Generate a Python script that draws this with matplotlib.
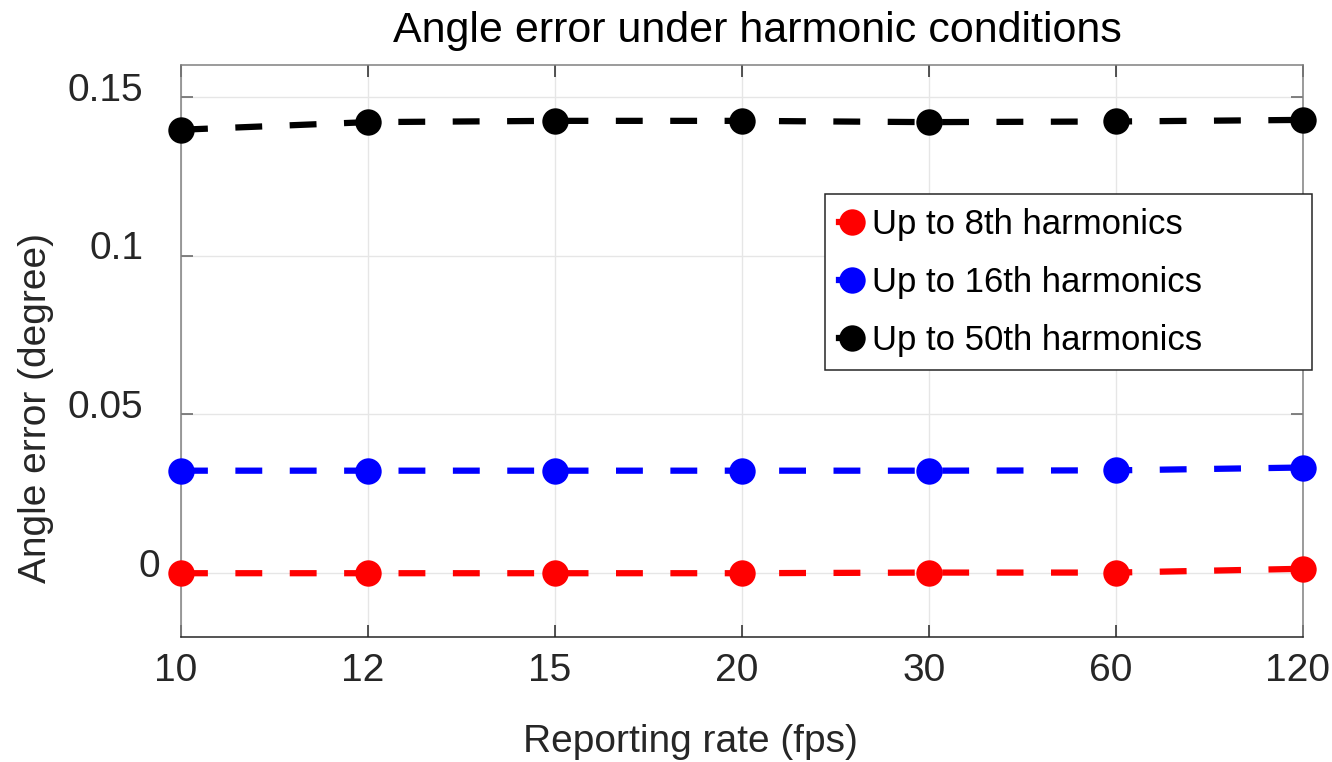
import numpy as np
import matplotlib
matplotlib.use("Agg")
import matplotlib.pyplot as plt
from matplotlib.legend_handler import HandlerLine2D
from matplotlib.transforms import ScaledTranslation

# Data
rates = ["10", "12", "15", "20", "30", "60", "120"]
err_8th = [0.0000, 0.0000, 0.0000, 0.0000, 0.0002, 0.0002, 0.0014]
err_16th = [0.0323, 0.0323, 0.0323, 0.0323, 0.0323, 0.0324, 0.0333]
err_50th = [0.1397, 0.1421, 0.1425, 0.1425, 0.1421, 0.1423, 0.1428]
series_labels = ["Up to 8th harmonics", "Up to 16th harmonics", "Up to 50th harmonics"]
series_colors = ["#ff0000", "#0000ff", "#000000"]
yticks = [0, 0.05, 0.1, 0.15]
ytick_labels = ["0", "0.05", "0.1", "0.15"]

plt.rcParams["font.family"] = ["Liberation Sans", "DejaVu Sans"]

W, H = 1332, 762
fig = plt.figure(figsize=(W / 100, H / 100), dpi=100)
ax_l, ax_r, ax_t, ax_b = 181, 1303, 65.3, 636.7
ax = fig.add_axes([ax_l / W, 1 - ax_b / H, (ax_r - ax_l) / W, (ax_b - ax_t) / H])

x = np.arange(len(rates))
for vals, lab, col in zip([err_8th, err_16th, err_50th], series_labels, series_colors):
    ax.plot(x, vals, color=col, lw=4.5, dashes=(4.3, 4.4), marker="o",
            markersize=19, markeredgewidth=0, label=lab, zorder=3, clip_on=False)

ax.set_xlim(x[0], x[-1])
ax.set_ylim(-0.02, 0.16)
ax.set_xticks(x)
ax.set_xticklabels(rates)
ax.set_yticks(yticks)
ax.set_yticklabels(ytick_labels)

ax.grid(True, color="#e6e6e6", lw=1.0, zorder=0)
ax.set_axisbelow(True)

for side in ["left", "top", "right"]:
    ax.spines[side].set_color("#808080")
    ax.spines[side].set_linewidth(1.1)
ax.spines["bottom"].set_color("#262626")
ax.spines["bottom"].set_linewidth(1.1)

ax.tick_params(axis="x", direction="in", length=8.5, width=1.1, color="#262626",
               top=True, labelsize=28, labelcolor="#262626", pad=12)
ax.tick_params(axis="y", direction="in", length=8.5, width=1.1, color="#606060",
               right=True, labelsize=28, labelcolor="#262626", pad=27)

# tick label nudges
for lbl in ax.get_yticklabels():
    dx = 0.17 if lbl.get_text() == "0" else 0.0
    lbl.set_transform(lbl.get_transform() + ScaledTranslation(dx, 0.105, fig.dpi_scale_trans))
for lbl in ax.get_xticklabels():
    lbl.set_transform(lbl.get_transform() + ScaledTranslation(-0.05, 0, fig.dpi_scale_trans))

ax.set_xlabel("Reporting rate (fps)", fontsize=28, color="#262626")
ax.xaxis.set_label_coords((690 - ax_l) / (ax_r - ax_l), (ax_b - 742) / (ax_b - ax_t))
ax.xaxis.label.set_va("center")
ax.set_ylabel("Angle error (degree)", fontsize=28, color="#262626")
ax.yaxis.set_label_coords((36 - ax_l) / (ax_r - ax_l), (ax_b - 408) / (ax_b - ax_t))
ax.yaxis.label.set_va("center")

fig.text(757 / W, 1 - 31 / H, "Angle error under harmonic conditions",
         fontsize=31, ha="center", va="center", color="black")


class StubHandler(HandlerLine2D):
    """Short solid line stub with the marker sitting on its right end."""
    def create_artists(self, legend, orig_handle, xdescent, ydescent, width, height, fontsize, trans):
        arts = super().create_artists(legend, orig_handle, xdescent, ydescent,
                                      width, height, fontsize, trans)
        for a in arts:
            a.set_markevery([2])
            a.set_linestyle("-")
        return arts


lx0, ly0, lx1, ly1 = 825, 194.3, 1312, 370.7
leg = ax.legend(loc="upper left",
                bbox_to_anchor=(lx0 / W, 1 - ly1 / H, (lx1 - lx0) / W, (ly1 - ly0) / H),
                bbox_transform=fig.transFigure, mode="expand", borderaxespad=0,
                fontsize=25, handlelength=0.4, handletextpad=0.55, borderpad=0.39,
                labelspacing=0.72, fancybox=False, framealpha=1, edgecolor="#262626",
                handler_map={plt.Line2D: StubHandler(numpoints=1)})
leg.get_frame().set_linewidth(1.1)

fig.savefig("out.png", dpi=100)
